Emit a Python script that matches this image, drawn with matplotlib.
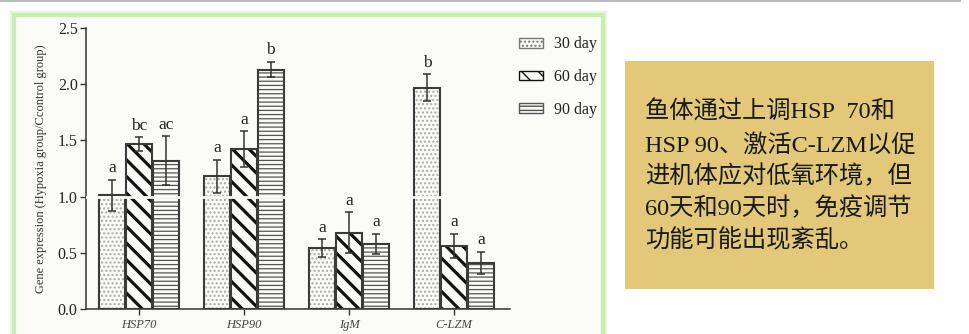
import numpy as np
import matplotlib.pyplot as plt
from matplotlib.patches import Rectangle, Patch
from matplotlib.lines import Line2D

genes = ['HSP70', 'HSP90', 'IgM', 'C-LZM']
days = ['30 day', '60 day', '90 day']

expr_30 = [1.01, 1.18, 0.54, 1.97]
expr_60 = [1.47, 1.42, 0.68, 0.56]
expr_90 = [1.32, 2.13, 0.58, 0.41]
err_30 = [0.14, 0.15, 0.08, 0.12]
err_60 = [0.06, 0.16, 0.18, 0.11]
err_90 = [0.22, 0.07, 0.09, 0.10]
sig_30 = ['a', 'a', 'a', 'b']
sig_60 = ['bc', 'a', 'a', 'a']
sig_90 = ['ac', 'b', 'a', 'a']

y_ticks = [0.0, 0.5, 1.0, 1.5, 2.0, 2.5]

note_lines = [
    '鱼体通过上调HSP  70和',
    'HSP 90、激活C-LZM以促',
    '进机体应对低氧环境，但',
    '60天和90天时，免疫调节',
    '功能可能出现紊乱。',
]

W, H = 969, 334
SERIF = 'Liberation Serif'
PANEL_BG = '#fafbf7'


def fx(px):
    return px / W


def fy(py):
    return 1 - py / H


fig = plt.figure(figsize=(W / 100, H / 100), dpi=100)
fig.patch.set_facecolor('white')

# thin grey rule along the top edge
fig.add_artist(Line2D([0, fx(960)], [fy(0.8), fy(0.8)], color='#b9b9b9', lw=1.4))

# chart panel with soft green frame
for lw, col in [(6.0, '#e6f7dc'), (3.0, '#c6eeb1')]:
    fig.add_artist(Rectangle((fx(14), fy(345)), fx(589), fy(15) - fy(345),
                             transform=fig.transFigure, facecolor=PANEL_BG,
                             edgecolor=col, lw=lw, zorder=0))

ax = fig.add_axes([fx(86), fy(309), fx(510 - 86), fy(28) - fy(309)])
ax.set_facecolor(PANEL_BG)

x = np.arange(len(genes))
offset = 0.255
width = 0.245

# (values, errors, letters, offset, hatch, hatch colour, hatch width)
series = [
    (expr_30, err_30, sig_30, -offset, '....', '#a8a8a8', 1.0),
    (expr_60, err_60, sig_60, 0.0, '\\\\', '#111111', 2.3),
    (expr_90, err_90, sig_90, offset, '----', '#555555', 0.9),
]

for vals, errs, sigs, off, hatch, hcol, hlw in series:
    pos = x + off
    with plt.rc_context({'hatch.linewidth': hlw}):
        ax.bar(pos, vals, width, color=PANEL_BG, edgecolor=hcol, hatch=hatch,
               linewidth=0, zorder=2)
    ax.bar(pos, vals, width, fill=False, edgecolor='#3a3a3a', linewidth=1.5, zorder=3)
    ax.errorbar(pos, vals, yerr=errs, fmt='none', ecolor='#333333', elinewidth=1.1,
                capsize=3, capthick=1.1, zorder=5)
    for p, v, e, s in zip(pos, vals, errs, sigs):
        ax.text(p, v + e + 0.03, s, ha='center', va='bottom', fontsize=12.5,
                family=SERIF, color='#222222', zorder=6)

# white break line at the control level
ax.axhline(1.0, color=PANEL_BG, lw=2.0, zorder=4)

ax.set_xlim(-0.505, 3.533)
ax.set_ylim(0, 2.5)
ax.set_yticks(y_ticks)
ax.set_yticklabels([f'{t:.1f}' for t in y_ticks], family=SERIF, fontsize=11.5, color='#222222')
ax.set_xticks(x)
ax.set_xticklabels(genes, family=SERIF, style='italic', fontsize=9, color='#444444')
ax.tick_params(axis='y', length=4, width=1, color='#333333', pad=2)
ax.tick_params(axis='x', length=4, width=1, color='#333333', pad=3)
for side in ['top', 'right']:
    ax.spines[side].set_visible(False)
for side in ['left', 'bottom']:
    ax.spines[side].set_color('#333333')
    ax.spines[side].set_linewidth(1.1)
ax.set_ylabel('Gene expression (Hypoxia group/Ccontrol group)', family=SERIF,
              fontsize=9, color='#333333', labelpad=8)

handles = []
for (_, _, _, _, hatch, hcol, hlw), lab in zip(series, days):
    with plt.rc_context({'hatch.linewidth': hlw}):
        handles.append(Patch(facecolor=PANEL_BG, edgecolor=hcol if hcol != '#a8a8a8' else '#777777',
                             hatch=hatch, lw=1.0, label=lab))
fig.legend(handles=handles, loc='upper left', bbox_to_anchor=(fx(505), fy(22)),
           frameon=False, prop={'family': SERIF, 'size': 11.5}, handlelength=1.45,
           handleheight=0.55, handletextpad=0.7, labelspacing=1.05, labelcolor='#222222')

# yellow note box
fig.add_artist(Rectangle((fx(625), fy(289)), fx(309), fy(61) - fy(289),
                         transform=fig.transFigure, facecolor='#e2c878',
                         edgecolor='none'))
line_y = [112, 145, 176, 208, 240]
for txt, ly in zip(note_lines, line_y):
    fig.text(fx(645), fy(ly), txt, ha='left', va='center', fontsize=17.5,
             family=[SERIF, 'Noto Sans CJK SC'], color='#1a1a1a')

fig.savefig('out.png', dpi=100, facecolor='white')
